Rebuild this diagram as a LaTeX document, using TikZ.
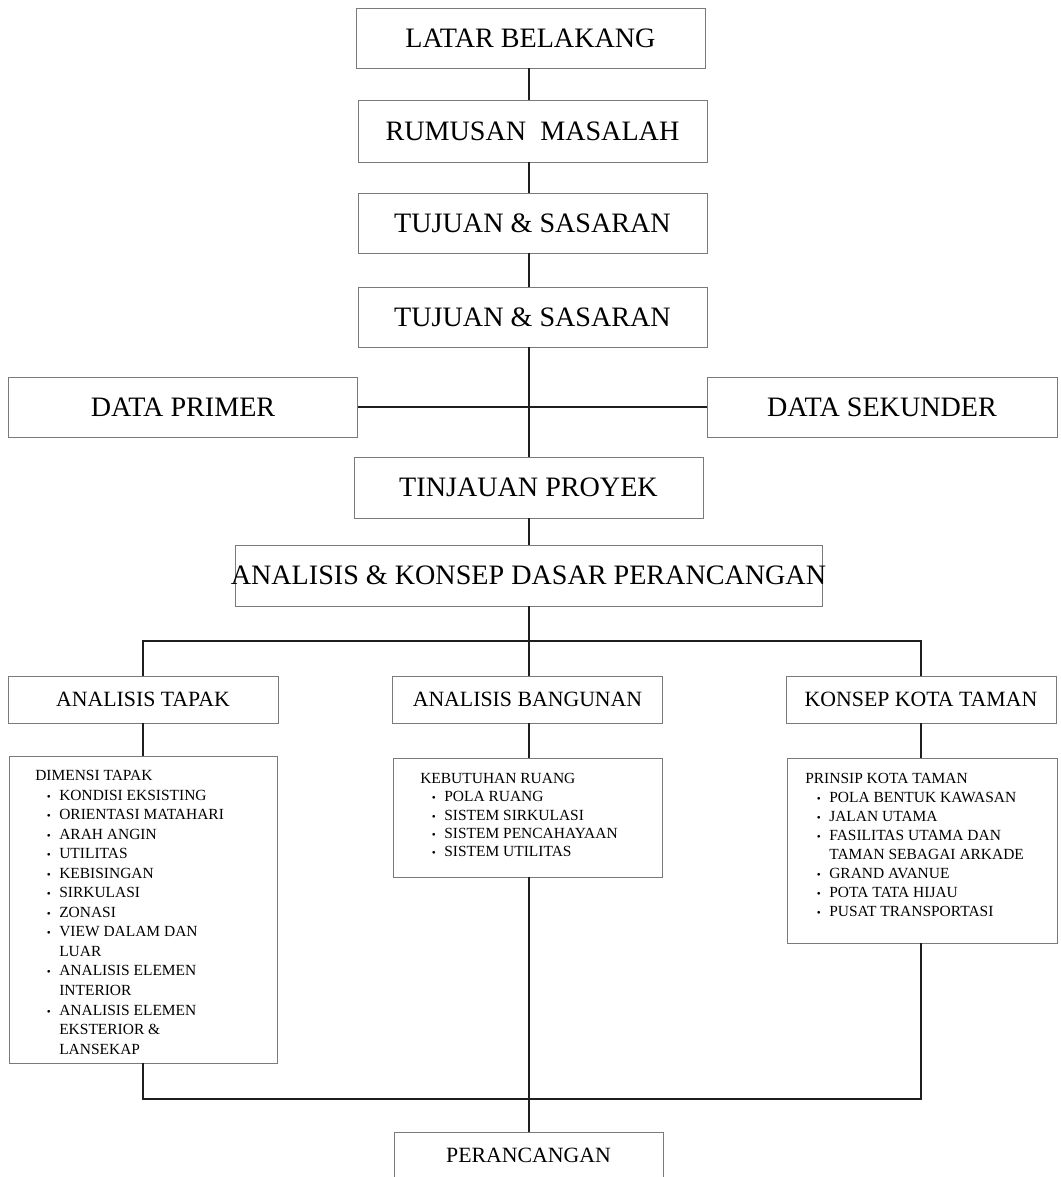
\documentclass[tikz,border=0pt]{standalone}
\usepackage{fontspec}
\setmainfont{Liberation Serif}
\usepackage{xcolor}
\usetikzlibrary{positioning, calc}
\definecolor{boxgray}{HTML}{7A7A7A}
\definecolor{linkgray}{HTML}{1E1E1E}
\newcommand{\listdot}{\makebox[0.6cm][l]{\hspace{0.29cm}{\footnotesize\textbullet}}}
\newcommand{\listgap}{\hspace*{0.6cm}}

\tikzset{
  stagebox/.style={draw=boxgray, line width=0.6pt, inner sep=0pt, text depth=0pt,
    font=\fontsize{20}{24}\selectfont, minimum width=8.725cm, minimum height=1.5cm},
  midbox/.style={draw=boxgray, line width=0.6pt, inner sep=0pt, text depth=0pt,
    font=\fontsize{15.5}{18}\selectfont, minimum width=6.75cm, minimum height=1.175cm},
  listbox/.style={draw=boxgray, line width=0.6pt, inner sep=0pt},
  listtext/.style={anchor=north west, inner sep=0pt, align=left,
    font=\fontsize{11}{13.8}\selectfont},
  link/.style={draw=linkgray, line width=1.2pt}
}

\begin{document}
\begin{tikzpicture}[x=0.025cm, y=-0.025cm]
  \path[use as bounding box, clip] (0,0) rectangle (1060,1177);

  % spine of stages
  \node[stagebox] (latar) at (530.5,38) {LATAR BELAKANG};
  \node[stagebox, minimum height=1.55cm] (rumusan) at (532.5,131) {RUMUSAN~~MASALAH};
  \node[stagebox] (tujuanA) at (532.5,223) {TUJUAN \& SASARAN};
  \node[stagebox] (tujuanB) at (532.5,317) {TUJUAN \& SASARAN};
  \node[stagebox] (primer) at (183,407) {DATA PRIMER};
  \node[stagebox, minimum width=8.75cm] (sekunder) at (882,407) {DATA SEKUNDER};
  \node[stagebox, minimum height=1.525cm] (tinjauan) at (528.5,487.5) {TINJAUAN PROYEK};
  \node[stagebox, minimum width=14.675cm, minimum height=1.525cm] (analisis) at (528.5,575.5)
    {\makebox[0pt]{ANALISIS \& KONSEP DASAR PERANCANGAN}};

  % three branches
  \node[midbox] (tapak) at (143,699.5) {ANALISIS TAPAK};
  \node[midbox] (bangunan) at (527.5,699.5) {ANALISIS BANGUNAN};
  \node[midbox] (konsep) at (921,699.5) {KONSEP KOTA TAMAN};

  \node[listbox, minimum width=6.7cm, minimum height=7.675cm] (dimensi) at (143,909.5) {};
  \node[listbox, minimum width=6.725cm, minimum height=2.975cm] (kebutuhan) at (527.5,817.5) {};
  \node[listbox, minimum width=6.75cm, minimum height=4.625cm] (prinsip) at (922,850.5) {};

  \node[listtext, font=\fontsize{11}{13.9}\selectfont] (dimensiText) at (35,770) {%
    DIMENSI TAPAK\\
    \listdot KONDISI EKSISTING\\
    \listdot ORIENTASI MATAHARI\\
    \listdot ARAH ANGIN\\
    \listdot UTILITAS\\
    \listdot KEBISINGAN\\
    \listdot SIRKULASI\\
    \listdot ZONASI\\
    \listdot VIEW DALAM DAN\\
    \listgap LUAR\\
    \listdot ANALISIS ELEMEN\\
    \listgap INTERIOR\\
    \listdot ANALISIS ELEMEN\\
    \listgap EKSTERIOR \&\\
    \listgap LANSEKAP};
  \node[listtext, font=\fontsize{11}{13}\selectfont] (kebutuhanText) at (420,773) {%
    KEBUTUHAN RUANG\\
    \listdot POLA RUANG\\
    \listdot SISTEM SIRKULASI\\
    \listdot SISTEM PENCAHAYAAN\\
    \listdot SISTEM UTILITAS};
  \node[listtext, font=\fontsize{11}{13.55}\selectfont] (prinsipText) at (805,773) {%
    PRINSIP KOTA TAMAN\\
    \listdot POLA BENTUK KAWASAN\\
    \listdot JALAN UTAMA\\
    \listdot FASILITAS UTAMA DAN\\
    \listgap TAMAN SEBAGAI ARKADE\\
    \listdot GRAND AVANUE\\
    \listdot POTA TATA HIJAU\\
    \listdot PUSAT TRANSPORTASI};

  \node[midbox, minimum width=6.725cm, minimum height=1.15cm] (perancangan) at (528.5,1155.5) {PERANCANGAN};

  % connectors
  \coordinate (spine) at (529,0);
  \coordinate (topbus) at (529,641);
  \coordinate (botbus) at (529,1099);
  \draw[link] (latar.south -| spine) -- (rumusan.north -| spine);
  \draw[link] (rumusan.south -| spine) -- (tujuanA.north -| spine);
  \draw[link] (tujuanA.south -| spine) -- (tujuanB.north -| spine);
  \draw[link] (tujuanB.south -| spine) -- (tinjauan.north -| spine);
  \draw[link] (primer.east) -- (sekunder.west);
  \draw[link] (tinjauan.south -| spine) -- (analisis.north -| spine);
  \draw[link] (analisis.south -| spine) -- (bangunan.north -| spine);
  \draw[link] (tapak.north) |- (topbus) -| (konsep.north);
  \draw[link] (tapak.south) -- (dimensi.north);
  \draw[link] (bangunan.south -| spine) -- (kebutuhan.north -| spine);
  \draw[link] (konsep.south) -- (konsep.south |- prinsip.north);
  \draw[link] (dimensi.south) |- (botbus) -| (konsep.south |- prinsip.south);
  \draw[link] (kebutuhan.south -| spine) -- (perancangan.north -| spine);
\end{tikzpicture}
\end{document}
